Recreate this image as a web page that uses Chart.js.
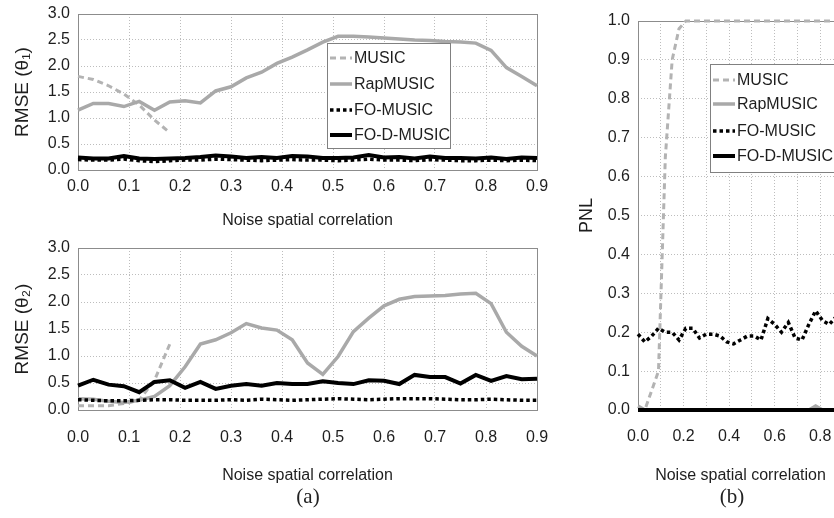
<!DOCTYPE html>
<html>
<head>
<meta charset="utf-8">
<script src="https://cdn.jsdelivr.net/npm/chart.js@4.4.1/dist/chart.umd.min.js"></script>
<style>
  html, body { margin: 0; padding: 0; background: #fff; width: 834px; height: 518px; overflow: hidden; }
  .box { position: absolute; }
  .cap { position: absolute; font-family: "Liberation Serif", "Times New Roman", serif; font-size: 21px; color: #222; transform: translateX(-50%); }
</style>
</head>
<body>
<div class="box" style="left:0;top:0;width:560px;height:232px"><canvas id="rmse1"></canvas></div>
<div class="box" style="left:0;top:232px;width:560px;height:262px"><canvas id="rmse2"></canvas></div>
<div class="box" style="left:540px;top:0;width:330px;height:494px"><canvas id="pnl"></canvas></div>
<div class="cap" style="left:308px;top:484px">(a)</div>
<div class="cap" style="left:732px;top:484px">(b)</div>
<script>
// noise spatial correlation values
const corrX = [0.00, 0.03, 0.06, 0.09, 0.12, 0.15, 0.18, 0.21, 0.24, 0.27, 0.30, 0.33, 0.36, 0.39, 0.42,
  0.45, 0.48, 0.51, 0.54, 0.57, 0.60, 0.63, 0.66, 0.69, 0.72, 0.75, 0.78, 0.81, 0.84, 0.87, 0.90];
const seriesNames = ['MUSIC', 'RapMUSIC', 'FO-MUSIC', 'FO-D-MUSIC'];

// RMSE(theta1)
const rmse1Music = [1.80, 1.74, 1.62, 1.46, 1.25, 0.96, 0.72];
const rmse1Rap = [1.15, 1.28, 1.28, 1.22, 1.32, 1.15, 1.31, 1.33, 1.29, 1.52, 1.60, 1.77, 1.88, 2.05, 2.17,
  2.31, 2.46, 2.57, 2.57, 2.56, 2.54, 2.52, 2.50, 2.49, 2.47, 2.46, 2.44, 2.30, 1.97, 1.80, 1.62];
const rmse1Fo = [0.20, 0.19, 0.19, 0.21, 0.18, 0.16, 0.18, 0.19, 0.19, 0.21, 0.20, 0.19, 0.18, 0.19, 0.20,
  0.19, 0.19, 0.18, 0.19, 0.21, 0.19, 0.19, 0.18, 0.20, 0.19, 0.18, 0.18, 0.19, 0.18, 0.19, 0.18];
const rmse1FoD = [0.24, 0.22, 0.22, 0.27, 0.22, 0.21, 0.22, 0.23, 0.25, 0.28, 0.26, 0.23, 0.25, 0.23, 0.27,
  0.26, 0.23, 0.23, 0.24, 0.29, 0.24, 0.25, 0.22, 0.26, 0.23, 0.23, 0.22, 0.24, 0.21, 0.24, 0.23];

// RMSE(theta2)
const rmse2Music = [0.08, 0.08, 0.08, 0.12, 0.18, 0.55, 1.22];
const rmse2Rap = [0.21, 0.20, 0.16, 0.14, 0.18, 0.25, 0.45, 0.80, 1.22, 1.30, 1.43, 1.60, 1.52, 1.48, 1.30,
  0.87, 0.66, 0.99, 1.45, 1.70, 1.93, 2.05, 2.10, 2.11, 2.12, 2.15, 2.16, 1.97, 1.44, 1.18, 1.00];
const rmse2Fo = [0.19, 0.18, 0.17, 0.17, 0.18, 0.19, 0.19, 0.18, 0.18, 0.18, 0.19, 0.18, 0.20, 0.19, 0.18,
  0.19, 0.20, 0.21, 0.20, 0.19, 0.20, 0.21, 0.21, 0.21, 0.20, 0.19, 0.19, 0.20, 0.19, 0.18, 0.18];
const rmse2FoD = [0.45, 0.56, 0.47, 0.44, 0.33, 0.52, 0.55, 0.41, 0.52, 0.39, 0.45, 0.48, 0.45, 0.50, 0.48,
  0.48, 0.53, 0.50, 0.48, 0.55, 0.54, 0.48, 0.65, 0.61, 0.61, 0.49, 0.65, 0.54, 0.63, 0.57, 0.58];

// PNL
const pnlMusic = [0.00, 0.00, 0.05, 0.10, 0.65, 0.90, 0.98, 1, 1, 1, 1, 1, 1, 1, 1,
  1, 1, 1, 1, 1, 1, 1, 1, 1, 1, 1, 1, 1, 1, 1, 1];
const pnlRap = [0.01, 0, 0, 0, 0, 0, 0, 0, 0, 0, 0, 0, 0, 0, 0,
  0, 0, 0, 0, 0, 0, 0, 0, 0, 0, 0, 0.01, 0, 0, 0, 0];
const pnlFo = [0.195, 0.175, 0.19, 0.21, 0.20, 0.20, 0.18, 0.21, 0.21, 0.185, 0.195, 0.195, 0.19, 0.175, 0.17,
  0.18, 0.19, 0.19, 0.18, 0.235, 0.22, 0.20, 0.225, 0.185, 0.18, 0.22, 0.255, 0.23, 0.22, 0.24, 0.24];
const pnlFoD = [0, 0, 0, 0, 0, 0, 0, 0, 0, 0, 0, 0, 0, 0, 0,
  0, 0, 0, 0, 0, 0, 0, 0, 0, 0, 0, 0, 0, 0, 0, 0];

const FONT = '"Liberation Sans Narrow", "Arial Narrow", "Liberation Sans", Arial, sans-serif';
const TXT = '#1e1e1e';
Chart.defaults.font.family = FONT;
Chart.defaults.color = TXT;

const pts = (ys) => ys.map((y, i) => ({ x: corrX[i], y: y }));

function makeSets(music, rap, fo, fod) {
  return [
    { label: seriesNames[0], data: pts(music), borderColor: '#b3b3b3', borderWidth: 3, borderDash: [6, 4], order: 3 },
    { label: seriesNames[1], data: pts(rap), borderColor: '#a9a9a9', borderWidth: 3.5, order: 2 },
    { label: seriesNames[2], data: pts(fo), borderColor: '#000', borderWidth: 3.5, borderDash: [3.5, 3], order: 1 },
    { label: seriesNames[3], data: pts(fod), borderColor: '#000', borderWidth: 4, order: 0 }
  ].map(d => Object.assign(d, { pointRadius: 0, fill: false, tension: 0, clip: 5 }));
}

// legend box drawn inside the plot area
const legendBox = {
  id: 'legendBox',
  afterDatasetsDraw(chart, args, opts) {
    if (!opts || !opts.rect) return;
    const ctx = chart.ctx;
    const [x, y, w, h] = opts.rect;
    ctx.save();
    ctx.fillStyle = '#fff';
    ctx.fillRect(x, y, w, h);
    ctx.strokeStyle = '#808080';
    ctx.lineWidth = 1;
    ctx.strokeRect(x + 0.5, y + 0.5, w, h);
    ctx.font = '16px ' + FONT;
    ctx.textBaseline = 'middle';
    ctx.fillStyle = TXT;
    chart.data.datasets.forEach((ds, i) => {
      const cy = opts.rows[i];
      ctx.beginPath();
      ctx.setLineDash(ds.borderDash || []);
      ctx.strokeStyle = ds.borderColor;
      ctx.lineWidth = ds.borderWidth;
      ctx.moveTo(x + 3, cy);
      ctx.lineTo(x + 25, cy);
      ctx.stroke();
      ctx.setLineDash([]);
      ctx.fillText(ds.label, x + 27, cy + 1);
    });
    ctx.restore();
  }
};

// full frame round the plot area
const frame = {
  id: 'frame',
  beforeDatasetsDraw(chart) {
    const { ctx, chartArea: a } = chart;
    ctx.save();
    ctx.strokeStyle = '#8c8c8c';
    ctx.lineWidth = 1;
    ctx.strokeRect(Math.round(a.left) + 0.5, Math.round(a.top) + 0.5, Math.round(a.right - a.left), Math.round(a.bottom - a.top));
    ctx.restore();
  }
};

function makeChart(id, sets, cfg) {
  return new Chart(document.getElementById(id), {
    type: 'line',
    data: { datasets: sets },
    plugins: [frame, legendBox],
    options: {
      responsive: true,
      maintainAspectRatio: false,
      animation: false,
      layout: { padding: cfg.padding },
      plugins: {
        legend: { display: false },
        tooltip: { enabled: false },
        legendBox: cfg.legend || {}
      },
      scales: {
        x: {
          type: 'linear', min: 0, max: 0.9,
          grid: { color: '#bdbdbd', drawTicks: false },
          border: { display: false, dash: [1, 2] },
          ticks: {
            stepSize: 0.1, autoSkip: false, maxRotation: 0, padding: cfg.xPad,
            font: { size: 16 },
            callback: cfg.xLabel || (v => v.toFixed(1))
          },
          title: { display: true, text: 'Noise spatial correlation', font: { size: 16 }, padding: { top: 0, bottom: cfg.xTitlePad } },
          afterFit: s => { s.height = cfg.xHeight; s.paddingLeft = 0; s.paddingRight = 0; }
        },
        y: {
          min: 0, max: cfg.yMax,
          grid: { color: '#bdbdbd', drawTicks: false },
          border: { display: false, dash: [1, 2] },
          ticks: { stepSize: cfg.yStep, padding: 8, font: { size: 16 }, callback: v => v.toFixed(1) },
          title: { display: true, text: cfg.yTitle, font: { size: cfg.yTitleSize }, padding: { top: cfg.yTitlePad, bottom: 0 } },
          afterFit: s => { s.width = cfg.yWidth; s.paddingTop = 0; s.paddingBottom = 0; }
        }
      }
    }
  });
}

makeChart('rmse1', makeSets(rmse1Music, rmse1Rap, rmse1Fo, rmse1FoD), {
  padding: { top: 14, right: 23, left: 0, bottom: 0 },
  xHeight: 62, xPad: 7, xTitlePad: 2, yWidth: 78, yTitlePad: 11, yTitleSize: 19,
  yMax: 3, yStep: 0.5, yTitle: 'RMSE (θ₁)',
  legend: { rect: [327, 43, 123, 105], rows: [58, 84, 110, 135] }
});

makeChart('rmse2', makeSets(rmse2Music, rmse2Rap, rmse2Fo, rmse2FoD), {
  padding: { top: 16, right: 23, left: 0, bottom: 0 },
  xHeight: 84, xPad: 18, xTitlePad: 9, yWidth: 78, yTitlePad: 11, yTitleSize: 19,
  yMax: 3, yStep: 0.5, yTitle: 'RMSE (θ₂)'
});

makeChart('pnl', makeSets(pnlMusic, pnlRap, pnlFo, pnlFoD), {
  padding: { top: 21, right: 27, left: 0, bottom: 0 },
  xHeight: 84, xPad: 17, xTitlePad: 9, yWidth: 98, yTitlePad: 36, yTitleSize: 18,
  yMax: 1, yStep: 0.1, yTitle: 'PNL',
  xLabel: v => (Math.round(v * 10) % 2 === 0 ? v.toFixed(1) : ''),
  legend: { rect: [170, 64, 140, 108], rows: [80, 104, 131, 156] }
});
</script>
</body>
</html>
